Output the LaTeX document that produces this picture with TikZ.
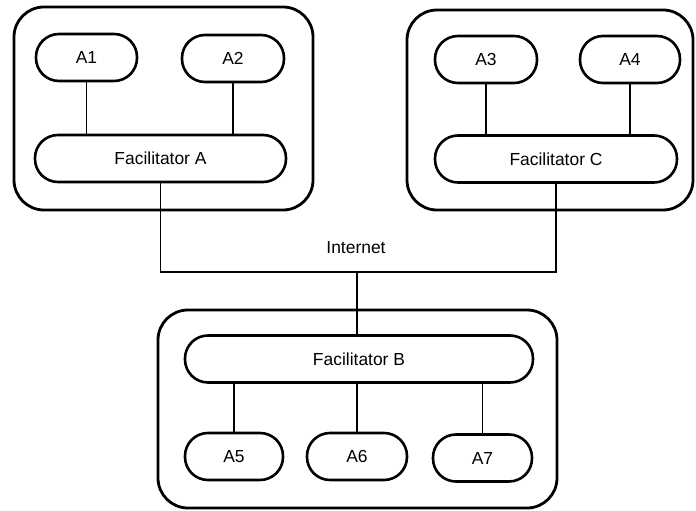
\documentclass[tikz,border=0pt]{standalone}
\usepackage{fontspec}
\setmainfont{Liberation Sans}
\begin{document}
\begin{tikzpicture}[x=1bp,y=-1bp,
  group/.style={draw,line width=2.8bp,rounded corners=30bp,minimum width=#1,inner sep=0pt},
  agent/.style={draw,line width=2.6bp,rounded corners=23bp,minimum width=#1,minimum height=47bp,inner sep=0pt,font=\fontsize{17.5}{20}\selectfont},
  link/.style={line width=1.2bp}]
\useasboundingbox (0,0) rectangle (696,511);

% enclosing groups
\node[group=299bp,minimum height=203bp] (GA) at (163.5,108.5) {};
\node[group=286bp,minimum height=200bp] (GC) at (550,110) {};
\node[group=399bp,minimum height=198bp] (GB) at (357.5,409) {};

% group A
\node[agent=101bp] (A1) at (86.5,57.5) {A1};
\node[agent=102bp] (A2) at (233,58.5) {A2};
\node[agent=251bp] (FA) at (160.5,158.5) {Facilitator A};

% group C
\node[agent=102bp] (A3) at (486,59.5) {A3};
\node[agent=100bp] (A4) at (630,59.5) {A4};
\node[agent=242bp] (FC) at (556,159) {Facilitator C};

% group B
\node[agent=348bp] (FB) at (359,359) {Facilitator B};
\node[agent=98bp] (A5) at (234,456.5) {A5};
\node[agent=100bp] (A6) at (357,456.5) {A6};
\node[agent=99bp] (A7) at (482.5,458) {A7};

% local links
\draw[link] (A1.south) -- (A1.south |- FA.north);
\draw[link] (A2.south) -- (A2.south |- FA.north);
\draw[link] (A3.south) -- (A3.south |- FC.north);
\draw[link] (A4.south) -- (A4.south |- FC.north);
\draw[link] (A5.north) -- (A5.north |- FB.south);
\draw[link] (A6.north) -- (A6.north |- FB.south);
\draw[link] (A7.north) -- (A7.north |- FB.south);

% internet backbone
\coordinate (net) at (357,272);
\draw[link] (FA.south) |- (net) -| (FC.south);
\draw[link] (net) -- (net |- FB.north);
\node[font=\fontsize{17.5}{20}\selectfont] (inet) at (356,248) {Internet};
\end{tikzpicture}
\end{document}
